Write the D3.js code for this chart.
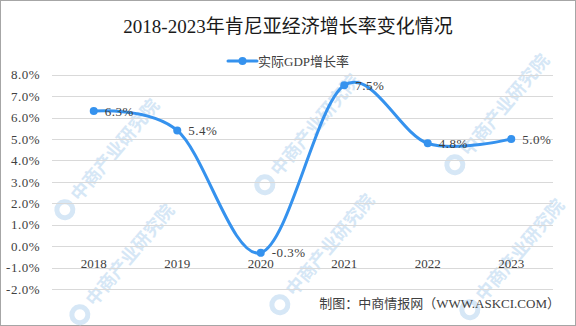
<!DOCTYPE html>
<html>
<head>
  <meta charset="UTF-8">
  <title>肯尼亚经济增长率</title>
  <script src="https://d3js.org/d3.v7.min.js"></script>
  <style>
    body { margin: 0; background: #fff; }
    svg { display: block; font-family: "Liberation Serif", "Noto Sans CJK SC", serif; }
  </style>
</head>
<body>
  <svg></svg>

  <script>
    let width = 576, height = 326;

    // data
    const years = ["2018", "2019", "2020", "2021", "2022", "2023"];
    const growth = [6.3, 5.4, -0.3, 7.5, 4.8, 5.0];
    const yTicks = [8, 7, 6, 5, 4, 3, 2, 1, 0, -1, -2];

    let svg = d3.select("svg")
      .attr("width", width)
      .attr("height", height);

    svg.append("rect")
      .attr("x", 0.5).attr("y", 0.5)
      .attr("width", width - 1).attr("height", height - 1)
      .attr("fill", "#fff")
      .attr("stroke", "#a6a6a6");

    // watermarks, kept inside the frame
    let wm = svg.append("g").attr("id", "watermark");
    [[115, 150], [315, 125], [505, 105], [130, 255], [330, 245], [520, 250]].forEach(p => {
      let g = wm.append("g").attr("transform", "translate(" + p[0] + "," + p[1] + ") rotate(-50)");
      g.append("circle").attr("cx", -78).attr("cy", 0).attr("r", 8)
        .attr("fill", "none").attr("stroke", "#d6e7f6").attr("stroke-width", 5);
      g.append("text").attr("x", 0).attr("y", 0)
        .attr("dy", "0.35em")
        .attr("text-anchor", "middle")
        .attr("fill", "#d6e7f6")
        .style("font-family", "Noto Sans CJK SC")
        .style("font-size", "18px")
        .style("font-weight", "bold")
        .text("中商产业研究院");
    });

    let x = d3.scaleBand()
      .domain(years)
      .range([52, 553]);

    let y = d3.scaleLinear()
      .domain([-2, 8])
      .range([289.3, 74.6]);

    // gridlines
    svg.append("g")
      .selectAll("line")
      .data(yTicks)
      .enter()
      .append("line")
      .attr("x1", 52).attr("x2", 553)
      .attr("y1", d => Math.round(y(d)) + 0.5)
      .attr("y2", d => Math.round(y(d)) + 0.5)
      .attr("stroke", "#d9d9d9")
      .attr("stroke-width", 1);

    // y tick labels
    svg.append("g")
      .selectAll("text")
      .data(yTicks)
      .enter()
      .append("text")
      .attr("x", 40)
      .attr("y", d => y(d))
      .attr("dy", "0.35em")
      .attr("text-anchor", "end")
      .attr("fill", "#404040")
      .style("font-size", "13px")
      .style("letter-spacing", "0.5px")
      .text(d => d.toFixed(1) + "%");

    // category labels under the zero line
    svg.append("g")
      .selectAll("text")
      .data(years)
      .enter()
      .append("text")
      .attr("x", d => x(d) + x.bandwidth() / 2)
      .attr("y", y(0) + 17)
      .attr("dy", "0.35em")
      .attr("text-anchor", "middle")
      .attr("fill", "#404040")
      .style("font-size", "13px")
      .text(d => d);

    let pts = years.map((yr, i) => [x(yr) + x.bandwidth() / 2, y(growth[i])]);

    let line = d3.line().curve(d3.curveCatmullRom.alpha(0));
    svg.append("path")
      .attr("d", line(pts))
      .attr("fill", "none")
      .attr("stroke", "#3592ee")
      .attr("stroke-width", 3)
      .attr("stroke-linecap", "round");

    svg.append("g")
      .selectAll("circle")
      .data(pts)
      .enter()
      .append("circle")
      .attr("cx", d => d[0])
      .attr("cy", d => d[1])
      .attr("r", 4)
      .attr("fill", "#3592ee");

    // value labels
    svg.append("g")
      .selectAll("text")
      .data(growth)
      .enter()
      .append("text")
      .attr("x", (d, i) => pts[i][0] + 11)
      .attr("y", (d, i) => pts[i][1])
      .attr("dy", "0.35em")
      .attr("fill", "#404040")
      .style("font-size", "13px")
      .style("letter-spacing", "0.5px")
      .text(d => d.toFixed(1) + "%");

    // title
    svg.append("text")
      .attr("x", 288).attr("y", 26)
      .attr("dy", "0.35em")
      .attr("text-anchor", "middle")
      .attr("fill", "#1a1a1a")
      .style("font-size", "19px")
      .text("2018-2023年肯尼亚经济增长率变化情况");

    // legend
    let lg = svg.append("g").attr("transform", "translate(228,61)");
    lg.append("line").attr("x1", 0).attr("x2", 29).attr("y1", 0).attr("y2", 0)
      .attr("stroke", "#3592ee").attr("stroke-width", 3).attr("stroke-linecap", "round");
    lg.append("circle").attr("cx", 14.5).attr("cy", 0).attr("r", 4).attr("fill", "#3592ee");
    lg.append("text").attr("x", 30).attr("y", 0).attr("dy", "0.35em")
      .attr("fill", "#404040")
      .style("font-size", "13px")
      .text("实际GDP增长率");

    // source
    svg.append("text")
      .attr("x", 560).attr("y", 303)
      .attr("dy", "0.35em")
      .attr("text-anchor", "end")
      .attr("fill", "#404040")
      .style("font-size", "13px")
      .text("制图：中商情报网（WWW.ASKCI.COM）");
  </script>
</body>
</html>
